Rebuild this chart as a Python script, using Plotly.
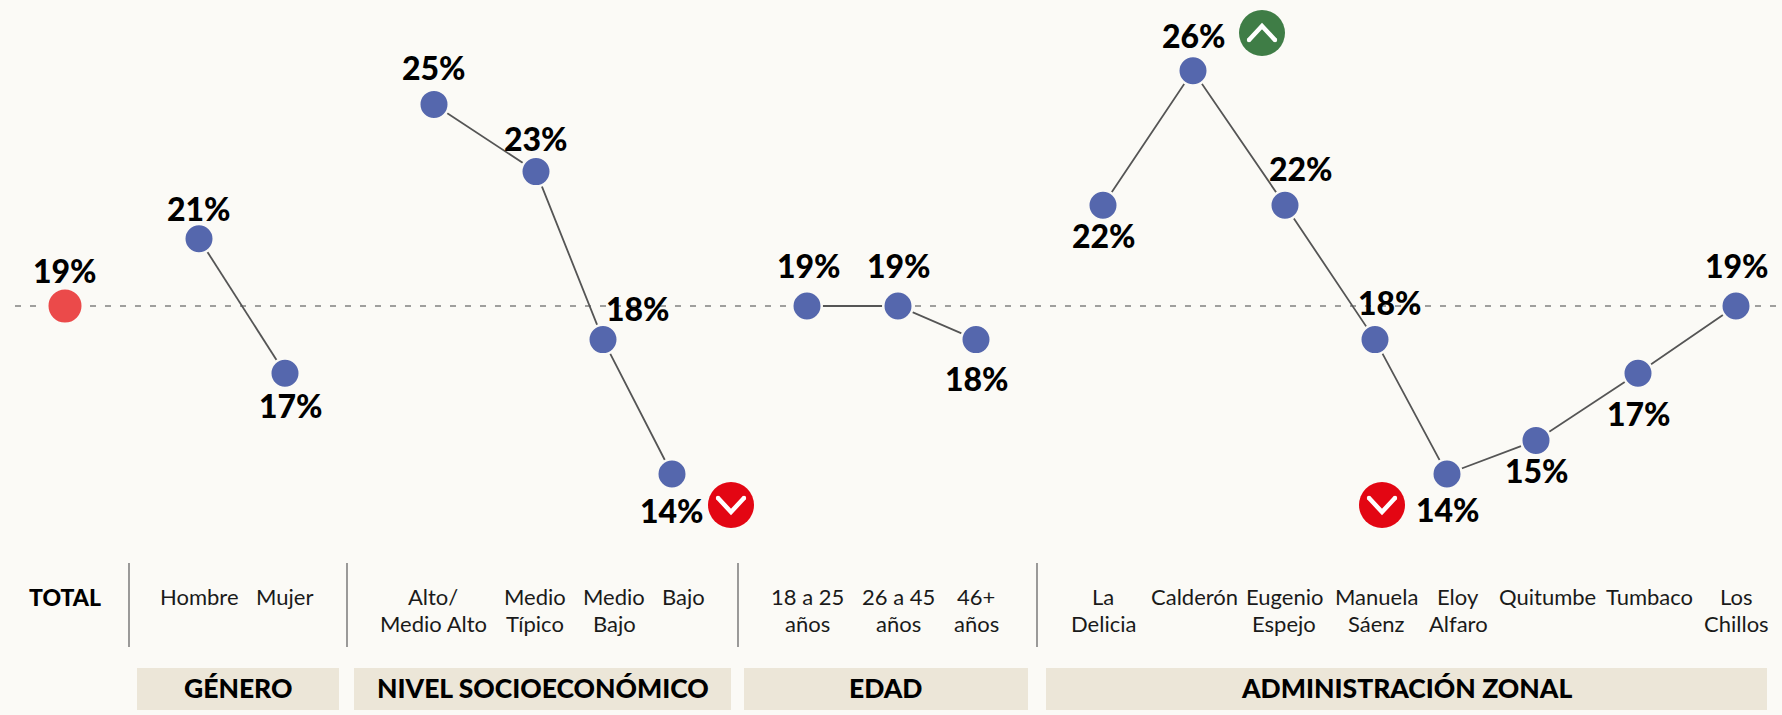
import plotly.graph_objects as go

W, H = 1782, 715
FONT = "Lato"
BG = "#FBFAF6"

# ---- data ----
total_label = "TOTAL"
total_value = 19

genero_labels = ["Hombre", "Mujer"]
genero_values = [21, 17]

nse_labels = ["Alto/<br>Medio Alto", "Medio<br>Típico", "Medio<br>Bajo", "Bajo"]
nse_values = [25, 23, 18, 14]

edad_labels = ["18 a 25<br>años", "26 a 45<br>años", "46+<br>años"]
edad_values = [19, 19, 18]

zonal_labels = ["La<br>Delicia", "Calderón", "Eugenio<br>Espejo", "Manuela<br>Sáenz", "Eloy<br>Alfaro",
                "Quitumbe", "Tumbaco", "Los<br>Chillos"]
zonal_values = [22, 26, 22, 18, 14, 15, 17, 19]

group_titles = ["GÉNERO", "NIVEL SOCIOECONÓMICO", "EDAD", "ADMINISTRACIÓN ZONAL"]

# ---- layout (x slots along the axis, label nudges, in pixels) ----
total_x = 65
genero_x = [199, 285]
nse_x = [434, 536, 603, 672]
edad_x = [807, 898, 976]
zonal_x = [1103, 1193, 1285, 1375, 1447, 1536, 1638, 1736]

total_off = (0, -36)
genero_off = [(0, -30), (6, 32)]
nse_off = [(0, -37), (0, -33), (35, -31), (0, 36)]
edad_off = [(2, -41), (1, -41), (1, 39)]
zonal_off = [(1, 30), (1, -35), (16, -37), (15, -37), (1, 35), (1, 30), (1, 40), (1, -41)]

genero_lx = [199, 284]
nse_lx = [433, 535, 614, 683]
edad_lx = [807, 898, 976]
zonal_lx = [1103, 1194, 1284, 1376, 1458, 1547, 1649, 1736]

box_spans = [(137, 339), (354, 731), (744, 1028), (1046, 1767)]
sep_x = [129, 347, 738, 1037]

PX_PER_UNIT = 33.6
Y_BASE = 306
y_top = total_value + Y_BASE / PX_PER_UNIT
y_bot = total_value - (H - Y_BASE) / PX_PER_UNIT

BLUE = "#5567AD"
RED_DOT = "#EB4A4A"
LINE = "#555555"

fig = go.Figure()

groups = [(genero_x, genero_values), (nse_x, nse_values), (edad_x, edad_values), (zonal_x, zonal_values)]
for xs, vals in groups:
    fig.add_trace(go.Scatter(x=xs, y=vals, mode="lines+markers",
                             line=dict(color=LINE, width=1.8),
                             marker=dict(size=29.5, color=BLUE, line=dict(color=BG, width=2.5)),
                             hoverinfo="skip", showlegend=False))
fig.add_trace(go.Scatter(x=[total_x], y=[total_value], mode="markers",
                         marker=dict(size=37, color=RED_DOT, line=dict(color=BG, width=4)),
                         hoverinfo="skip", showlegend=False))

ann = []


def pct(x, v, off):
    ann.append(dict(x=x, y=v, xref="x", yref="y", text=f"{v}%", showarrow=False,
                    xshift=off[0], yshift=-off[1], xanchor="center", yanchor="middle",
                    font=dict(family=FONT, size=32, color="#000000", weight=900)))


pct(total_x, total_value, total_off)
for xs, vals, offs in [(genero_x, genero_values, genero_off), (nse_x, nse_values, nse_off),
                       (edad_x, edad_values, edad_off), (zonal_x, zonal_values, zonal_off)]:
    for x, v, o in zip(xs, vals, offs):
        pct(x, v, o)


def ypaper(py):
    return 1 - py / H


def cat(x, text):
    for i, line in enumerate(text.split("<br>")):
        ann.append(dict(x=x, y=ypaper(581 + 27 * i), xref="x", yref="paper", text=line, showarrow=False,
                        xanchor="center", yanchor="top", align="center",
                        font=dict(family=FONT, size=22, color="#1a1a1a")))


ann.append(dict(x=total_x, y=ypaper(581), xref="x", yref="paper", text=total_label, showarrow=False,
                xanchor="center", yanchor="top", font=dict(family=FONT, size=23, color="#000000", weight=900)))
for lxs, labels in [(genero_lx, genero_labels), (nse_lx, nse_labels), (edad_lx, edad_labels), (zonal_lx, zonal_labels)]:
    for x, t in zip(lxs, labels):
        cat(x, t)

shapes = []
for x in sep_x:
    shapes.append(dict(type="line", xref="x", yref="paper", x0=x, x1=x, y0=ypaper(563), y1=ypaper(647),
                       line=dict(color="#666666", width=1.3)))
for (a, b), title in zip(box_spans, group_titles):
    shapes.append(dict(type="rect", xref="x", yref="paper", x0=a, x1=b, y0=ypaper(668), y1=ypaper(710),
                       fillcolor="#ECE6D8", line=dict(width=0), layer="below"))
    ann.append(dict(x=(a + b) / 2, y=ypaper(688), xref="x", yref="paper", text=title, showarrow=False,
                    xanchor="center", yanchor="middle", font=dict(family=FONT, size=26.5, color="#000000", weight=900)))

shapes.append(dict(type="line", xref="x", yref="y", x0=15, x1=W, y0=total_value, y1=total_value,
                   line=dict(color="#444444", width=1.2, dash="6px,9px"), layer="below"))


def badge(cx, cy, color, up):
    r = 23
    shapes.append(dict(type="circle", xref="x", yref="paper", x0=cx - r, x1=cx + r,
                       y0=ypaper(cy + r), y1=ypaper(cy - r), fillcolor=color, line=dict(width=0)))
    d = 7 if up else -7
    pts = [(cx - 13, cy + d), (cx, cy - d), (cx + 13, cy + d)]
    path = "M " + " L ".join(f"{px},{ypaper(py)}" for px, py in pts)
    shapes.append(dict(type="path", xref="x", yref="paper", path=path,
                       line=dict(color="#FFFFFF", width=4.5)))
    for px, py in (pts[0], pts[2]):
        shapes.append(dict(type="circle", xref="x", yref="paper", x0=px - 2.2, x1=px + 2.2,
                           y0=ypaper(py + 2.2), y1=ypaper(py - 2.2), fillcolor="#FFFFFF", line=dict(width=0)))


badge(731, 505, "#E30613", False)
badge(1382, 505, "#E30613", False)
badge(1262, 33, "#3F7D46", True)

fig.update_layout(width=W, height=H, margin=dict(l=0, r=0, t=0, b=0),
                  paper_bgcolor=BG, plot_bgcolor=BG, showlegend=False,
                  xaxis=dict(range=[0, W], visible=False, fixedrange=True),
                  yaxis=dict(range=[y_bot, y_top], visible=False, fixedrange=True),
                  annotations=ann, shapes=shapes)

fig.write_html("out.html", config=dict(displayModeBar=False),
               post_script=f"document.body.style.margin='0';document.body.style.background='{BG}';document.body.style.overflow='hidden';")
